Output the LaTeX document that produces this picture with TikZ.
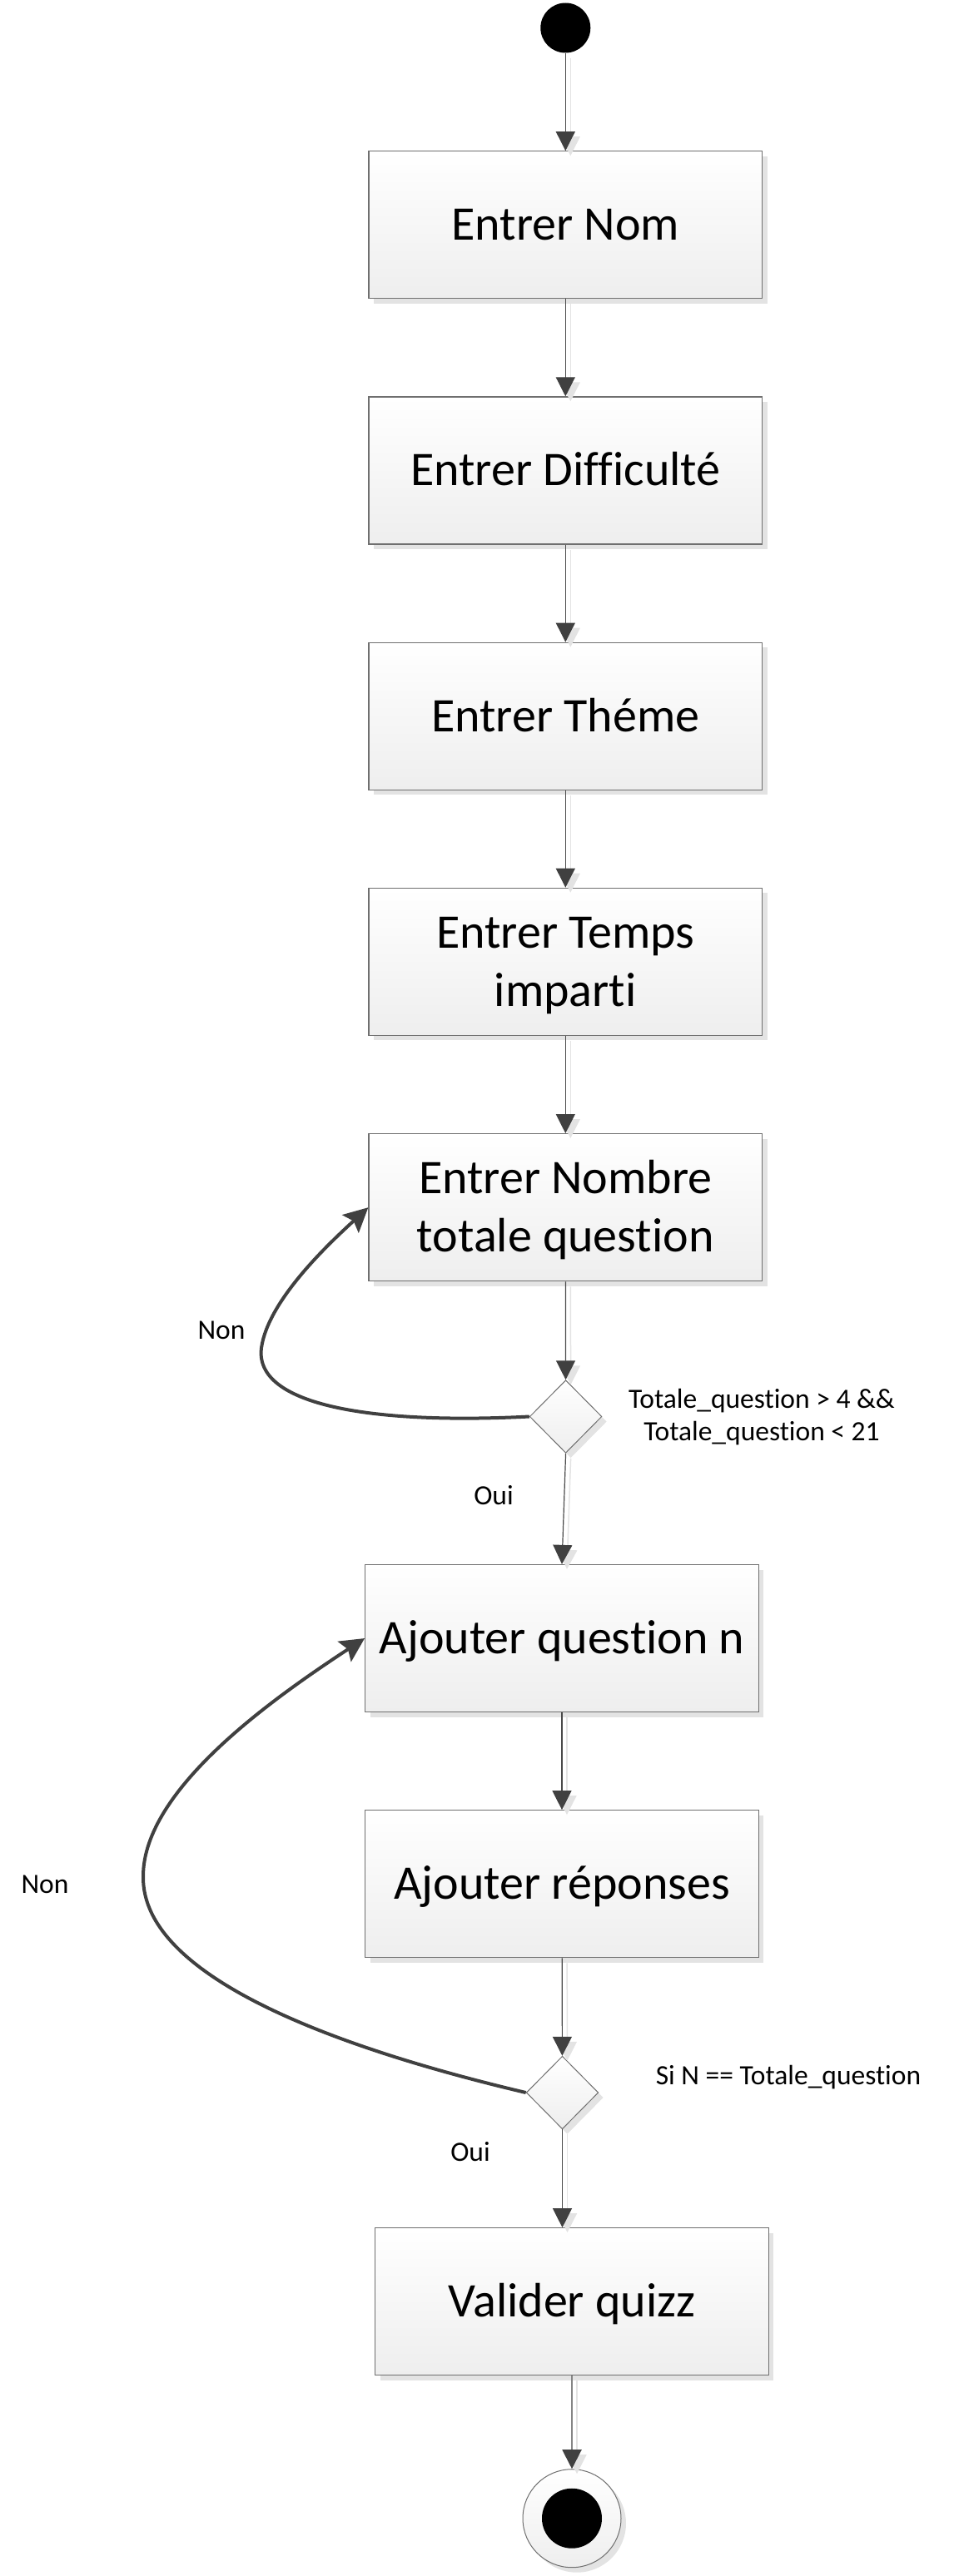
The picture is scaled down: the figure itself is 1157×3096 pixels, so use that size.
\documentclass[tikz,border=0pt]{standalone}
\usepackage{fontspec}
\setmainfont{Carlito}[Ligatures=NoCommon]
\usetikzlibrary{arrows.meta,shapes.geometric,shadows}
\definecolor{boxline}{HTML}{6F6F6F}
\definecolor{boxbot}{HTML}{EEEEEE}
\definecolor{shadowc}{HTML}{E3E3E3}
\definecolor{linec}{HTML}{4A4A4A}
\definecolor{arrowc}{HTML}{404040}
\definecolor{lastline}{HTML}{858585}
\newcommand\twolines[2]{\begin{tabular}[b]{@{}c@{}}#1\\#2\end{tabular}}
\begin{document}
\begin{tikzpicture}[x=1pt,y=-1pt,
  boxshadow/.style={drop shadow={shadow xshift=6pt,shadow yshift=-6pt,opacity=1,fill=shadowc}},
  act/.style={rectangle, draw=boxline, line width=1.3pt, top color=white, bottom color=boxbot,
    minimum width=472.6pt, minimum height=177pt, inner sep=0pt,
    font=\fontsize{58}{70}\selectfont, text height=36.7pt, text depth=0pt, boxshadow},
  acttwo/.style={act, text height=106.7pt},
  dec/.style={diamond, draw=boxline, line width=1pt, top color=white, bottom color=boxbot,
    minimum width=86.6pt, minimum height=87.6pt, inner sep=0pt, boxshadow},
  lbl/.style={inner sep=0pt, font=\fontsize{33.5}{39.5}\selectfont},
  conn/.style={draw=linec, line width=1.2pt, -{Triangle[length=23pt,width=23pt,color=arrowc]}},
  connlast/.style={draw=lastline, line width=2pt, -{Triangle[length=23pt,width=23pt,color=arrowc]}},
  cshadow/.style={draw=shadowc, line width=1.5pt, -{Triangle[length=23pt,width=23pt,color=shadowc]},
    transform canvas={shift={(6pt,-6pt)}}},
  loopc/.style={draw=arrowc, line width=4pt, -{Stealth[length=29pt,width=29pt,inset=5pt,color=arrowc]}}
]
\useasboundingbox (0,0) rectangle (1157,3096);

% nodes
\node[circle, fill=black, minimum size=60pt, inner sep=0pt] (start) at (679.3,33.5) {};
\node[act] (b1) at (679.3,270.3) {Entrer Nom};
\node[act] (b2) at (679.3,565.5) {Entrer Difficulté};
\node[act] (b3) at (679.3,860.8) {Entrer Théme};
\node[acttwo] (b4) at (679.3,1155.8) {\twolines{Entrer Temps}{imparti}};
\node[acttwo] (b5) at (679.3,1451.2) {\twolines{Entrer Nombre}{totale question}};
\node[dec] (d1) at (679.6,1702.5) {};
\node[act] (b6) at (675,1969) {Ajouter question n};
\node[act] (b7) at (675,2264.3) {Ajouter réponses};
\node[dec] (d2) at (675.5,2515) {};
\node[act] (b8) at (687,2766.3) {Valider quizz};
\node[circle, draw=boxline, line width=1pt, top color=white, bottom color=boxbot,
      minimum size=118pt, inner sep=0pt, boxshadow] (end) at (687,3026.7) {};
\node[circle, fill=black, minimum size=72pt, inner sep=0pt] (endin) at (end.center) {};

% labels
\node[lbl, anchor=base] (cond1) at (915,1731.5) {\twolines{Totale\_question > 4 \&\&}{Totale\_question < 21}};
\node[lbl, anchor=base] (oui1) at (593,1808) {Oui};
\node[lbl, anchor=base] (non1) at (266,1609.3) {Non};
\node[lbl, anchor=base] (cond2) at (947,2505.7) {Si N == Totale\_question};
\node[lbl, anchor=base] (oui2) at (565,2597) {Oui};
\node[lbl, anchor=base] (non2) at (54,2275) {Non};

\coordinate (b8in) at (d2.south |- b8.north);

% connector shadows
\draw[cshadow] (start) -- (b1);
\draw[cshadow] (b1) -- (b2);
\draw[cshadow] (b2) -- (b3);
\draw[cshadow] (b3) -- (b4);
\draw[cshadow] (b4) -- (b5);
\draw[cshadow] (b5) -- (d1);
\draw[cshadow] (d1.south) -- (b6.north);
\draw[cshadow] (b6) -- (b7);
\draw[cshadow] (b7) -- (d2);
\draw[cshadow] (d2.south) -- (b8in);
\draw[cshadow] (b8) -- (end);

% connectors
\draw[conn] (start) -- (b1);
\draw[conn] (b1) -- (b2);
\draw[conn] (b2) -- (b3);
\draw[conn] (b3) -- (b4);
\draw[conn] (b4) -- (b5);
\draw[conn] (b5) -- (d1);
\draw[conn] (d1.south) -- (b6.north);
\draw[conn] (b6) -- (b7);
\draw[conn] (b7) -- (d2);
\draw[conn] (d2.south) -- (b8in);
\draw[connlast] (b8) -- (end);

% loops
\draw[loopc] (d1.west) .. controls (450,1712) and (305,1690) .. (314,1620)
  .. controls (322,1562) and (398,1492) .. (b5.west);
\draw[loopc] (d2.west) .. controls (420,2465) and (170,2380) .. (172,2255)
  .. controls (172,2150) and (330,2040) .. (b6.west);
\end{tikzpicture}
\end{document}
